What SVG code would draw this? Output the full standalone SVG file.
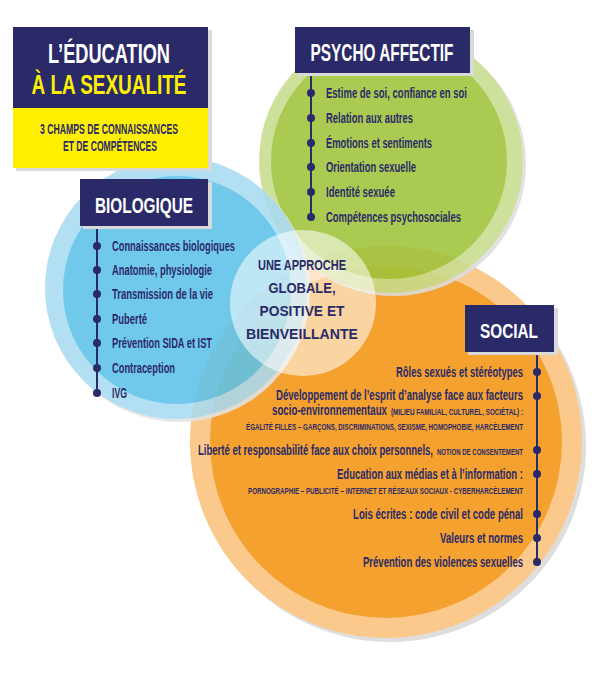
<svg xmlns="http://www.w3.org/2000/svg" width="603" height="686" viewBox="0 0 603 686">
<defs>
<style>
.t{font-family:"Liberation Sans",Arial,sans-serif;font-weight:bold;fill:#2b2a68;font-size:14px}
.s{font-family:"Liberation Sans",Arial,sans-serif;font-weight:bold;fill:#2b2a68;font-size:8.5px}
.h{font-family:"Liberation Sans",Arial,sans-serif;font-weight:bold;fill:#ffffff}
.box{fill:#2b2a68}
.shd{fill:#d9d9d9}
.spine{stroke:#2b2a68;stroke-width:2;fill:none}
.dot{fill:#2b2a68}
</style>
</defs>
<rect width="603" height="686" fill="#ffffff"/>

<!-- circles -->
<g id="social-circle">
<circle cx="390" cy="446" r="196" fill="#dedede"/>
<circle cx="386" cy="442" r="196" fill="#fbc98b"/>
<circle cx="386" cy="442" r="176" fill="#f4a12f"/>
</g>
<g id="psycho-circle" opacity="0.88">
<circle cx="394" cy="164" r="132" fill="#dedede"/>
<circle cx="391" cy="161" r="132" fill="#c8dd8f"/>
<circle cx="389" cy="161" r="118" fill="#9fc33b"/>
</g>
<g id="bio-circle" opacity="0.88">
<circle cx="179" cy="291" r="131" fill="#e3e3e3"/>
<circle cx="176" cy="288" r="131" fill="#a8dbf1"/>
<circle cx="177" cy="290" r="114" fill="#5dc2e9"/>
</g>

<!-- center -->
<g id="center">
<circle cx="303" cy="303" r="73" fill="#ffffff" opacity="0.55"/>
<text class="t" x="302" y="270" text-anchor="middle" font-size="18" textLength="88" lengthAdjust="spacingAndGlyphs">UNE APPROCHE</text>
<text class="t" x="302" y="293" text-anchor="middle" font-size="22" textLength="67" lengthAdjust="spacingAndGlyphs">GLOBALE,</text>
<text class="t" x="302" y="316" text-anchor="middle" font-size="22" textLength="85" lengthAdjust="spacingAndGlyphs">POSITIVE ET</text>
<text class="t" x="302" y="339" text-anchor="middle" font-size="22" textLength="112" lengthAdjust="spacingAndGlyphs">BIENVEILLANTE</text>
</g>

<!-- title -->
<g id="title">
<rect class="shd" x="16" y="30" width="196" height="141"/>
<rect class="box" x="13" y="27" width="195" height="81"/>
<rect x="13" y="108" width="195" height="60" fill="#fff000"/>
<text class="h" x="109" y="63" text-anchor="middle" font-size="28" textLength="122" lengthAdjust="spacingAndGlyphs">L’ÉDUCATION</text>
<text class="h" x="109" y="94" text-anchor="middle" font-size="27" fill="#fff000" style="fill:#fff000" textLength="155" lengthAdjust="spacingAndGlyphs">À LA SEXUALITÉ</text>
<text class="t" x="109" y="134" text-anchor="middle" font-size="11" textLength="138" lengthAdjust="spacingAndGlyphs">3 CHAMPS DE CONNAISSANCES</text>
<text class="t" x="110" y="151" text-anchor="middle" font-size="11" textLength="94" lengthAdjust="spacingAndGlyphs">ET DE COMPÉTENCES</text>
</g>

<!-- connectors: bullet spines -->
<g id="connectors">
<line class="spine" x1="311" y1="73" x2="311" y2="217"/>
<circle class="dot" cx="311" cy="93" r="4"/>
<circle class="dot" cx="311" cy="118" r="4"/>
<circle class="dot" cx="311" cy="143" r="4"/>
<circle class="dot" cx="311" cy="167" r="4"/>
<circle class="dot" cx="311" cy="192" r="4"/>
<circle class="dot" cx="311" cy="217" r="4"/>
<line class="spine" x1="97" y1="226" x2="97" y2="393"/>
<circle class="dot" cx="97" cy="246" r="4"/>
<circle class="dot" cx="97" cy="270" r="4"/>
<circle class="dot" cx="97" cy="294" r="4"/>
<circle class="dot" cx="97" cy="319" r="4"/>
<circle class="dot" cx="97" cy="343" r="4"/>
<circle class="dot" cx="97" cy="368" r="4"/>
<circle class="dot" cx="97" cy="393" r="4"/>
<line class="spine" x1="537" y1="352" x2="537" y2="562"/>
<circle class="dot" cx="537" cy="372" r="4"/>
<circle class="dot" cx="537" cy="396" r="4"/>
<circle class="dot" cx="537" cy="450" r="4"/>
<circle class="dot" cx="537" cy="474" r="4"/>
<circle class="dot" cx="537" cy="514" r="4"/>
<circle class="dot" cx="537" cy="538" r="4"/>
<circle class="dot" cx="537" cy="562" r="4"/>
</g>

<!-- psycho affectif -->
<g id="psycho">
<rect class="shd" x="298" y="30" width="176" height="46"/>
<rect class="box" x="295" y="27" width="175" height="46"/>
<text class="h" x="382" y="61" text-anchor="middle" font-size="23" textLength="143" lengthAdjust="spacingAndGlyphs">PSYCHO AFFECTIF</text>
<text class="t" x="326" y="98" textLength="141" lengthAdjust="spacingAndGlyphs">Estime de soi, confiance en soi</text>
<text class="t" x="326" y="123" textLength="87" lengthAdjust="spacingAndGlyphs">Relation aux autres</text>
<text class="t" x="326" y="148" textLength="106" lengthAdjust="spacingAndGlyphs">Émotions et sentiments</text>
<text class="t" x="326" y="172" textLength="90" lengthAdjust="spacingAndGlyphs">Orientation sexuelle</text>
<text class="t" x="326" y="197" textLength="69" lengthAdjust="spacingAndGlyphs">Identité sexuée</text>
<text class="t" x="326" y="222" textLength="135" lengthAdjust="spacingAndGlyphs">Compétences psychosociales</text>
</g>

<!-- biologique -->
<g id="bio">
<rect class="shd" x="83" y="182" width="129" height="47"/>
<rect class="box" x="80" y="179" width="128" height="47"/>
<text class="h" x="144" y="213" text-anchor="middle" font-size="22" textLength="98" lengthAdjust="spacingAndGlyphs">BIOLOGIQUE</text>
<text class="t" x="112" y="251" textLength="123" lengthAdjust="spacingAndGlyphs">Connaissances biologiques</text>
<text class="t" x="112" y="275" textLength="100" lengthAdjust="spacingAndGlyphs">Anatomie, physiologie</text>
<text class="t" x="112" y="299" textLength="101" lengthAdjust="spacingAndGlyphs">Transmission de la vie</text>
<text class="t" x="112" y="324" textLength="35" lengthAdjust="spacingAndGlyphs">Puberté</text>
<text class="t" x="112" y="348" textLength="100" lengthAdjust="spacingAndGlyphs">Prévention SIDA et IST</text>
<text class="t" x="112" y="373" textLength="63" lengthAdjust="spacingAndGlyphs">Contraception</text>
<text class="t" x="112" y="398" textLength="15" lengthAdjust="spacingAndGlyphs">IVG</text>
</g>

<!-- social -->
<g id="social">
<rect class="shd" x="468" y="308" width="90" height="47"/>
<rect class="box" x="465" y="305" width="89" height="47"/>
<text class="h" x="509" y="338" text-anchor="middle" font-size="21" textLength="58" lengthAdjust="spacingAndGlyphs">SOCIAL</text>
<text class="t" x="523" y="377" text-anchor="end" textLength="127" lengthAdjust="spacingAndGlyphs">Rôles sexués et stéréotypes</text>
<text class="t" x="523" y="400" text-anchor="end" textLength="247" lengthAdjust="spacingAndGlyphs">Développement de l’esprit d’analyse face aux facteurs</text>
<text class="t" x="272" y="415" textLength="115" lengthAdjust="spacingAndGlyphs">socio-environnementaux</text>
<text class="s" x="523" y="415" text-anchor="end" textLength="132" lengthAdjust="spacingAndGlyphs">(MILIEU FAMILIAL, CULTUREL, SOCIÉTAL) :</text>
<text class="s" x="523" y="430" text-anchor="end" textLength="277" lengthAdjust="spacingAndGlyphs">ÉGALITÉ FILLES – GARÇONS, DISCRIMINATIONS, SEXISME, HOMOPHOBIE, HARCÈLEMENT</text>
<text class="t" x="198" y="455" textLength="235" lengthAdjust="spacingAndGlyphs">Liberté et responsabilité face aux choix personnels,</text>
<text class="s" x="523" y="455" text-anchor="end" textLength="86" lengthAdjust="spacingAndGlyphs">NOTION DE CONSENTEMENT</text>
<text class="t" x="523" y="479" text-anchor="end" textLength="186" lengthAdjust="spacingAndGlyphs">Education aux médias et à l’information :</text>
<text class="s" x="523" y="494" text-anchor="end" textLength="275" lengthAdjust="spacingAndGlyphs">PORNOGRAPHIE – PUBLICITÉ – INTERNET ET RÉSEAUX SOCIAUX - CYBERHARCÈLEMENT</text>
<text class="t" x="523" y="519" text-anchor="end" textLength="170" lengthAdjust="spacingAndGlyphs">Lois écrites : code civil et code pénal</text>
<text class="t" x="523" y="543" text-anchor="end" textLength="83" lengthAdjust="spacingAndGlyphs">Valeurs et normes</text>
<text class="t" x="523" y="567" text-anchor="end" textLength="160" lengthAdjust="spacingAndGlyphs">Prévention des violences sexuelles</text>
</g>
</svg>
